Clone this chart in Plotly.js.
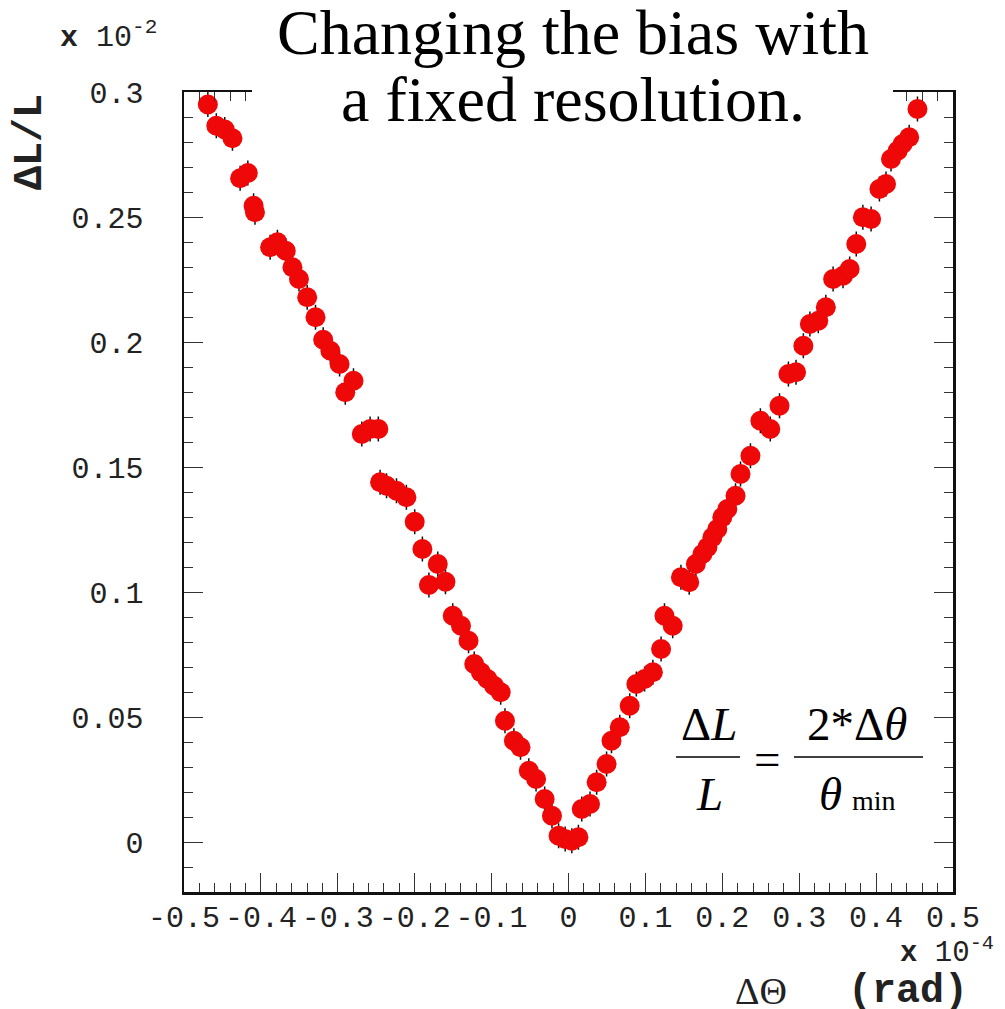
<!DOCTYPE html>
<html>
<head>
<meta charset="utf-8">
<script src="https://cdn.plot.ly/plotly-3.0.1.min.js"></script>
<style>html,body{margin:0;padding:0;background:#fff;}</style>
</head>
<body>
<div id="chart" style="width:1005px;height:1009px;"></div>
<script>
// Data (x in units of 1e-4 rad, y in units of 1e-2)
const dTheta = [
-0.469,-0.458,-0.447,-0.437,-0.427,-0.417,-0.4095,-0.4077,-0.388,-0.3785,
-0.3677,-0.359,-0.3505,-0.3398,-0.329,-0.319,-0.3097,-0.2977,-0.2903,-0.2796,
-0.2688,-0.258,-0.2473,-0.245,-0.2366,-0.2237,-0.2108,-0.200,-0.190,-0.1815,
-0.170,-0.160,-0.1505,-0.1398,-0.130,-0.1226,-0.114,-0.1054,-0.0968,-0.0882,
-0.0826,-0.071,-0.0624,-0.0516,-0.0422,-0.031,-0.0215,-0.0129,-0.0043,0.0043,
0.0129,0.0172,0.028,0.0366,0.0495,0.0559,0.0667,0.0796,0.0882,0.099,
0.1097,0.1204,0.1248,0.1355,0.1462,0.157,0.1656,0.1742,0.1806,0.1871,
0.1935,0.200,0.2065,0.2172,0.2237,0.2366,0.2495,0.2624,0.2744,0.286,
0.2959,0.3054,0.3139,0.3248,0.3346,0.3441,0.357,0.3656,0.3742,0.3828,
0.3935,0.4043,0.4129,0.4194,0.428,0.4344,0.443,0.4538
];
const dLoverL = [
0.295,0.2865,0.285,0.2815,0.2655,0.2676,0.2545,0.2519,0.2379,0.2399,
0.2365,0.2299,0.2252,0.2179,0.2099,0.2009,0.1965,0.1912,0.1799,0.1845,
0.1632,0.1652,0.1652,0.1439,0.1425,0.1405,0.1379,0.1281,0.1172,0.1028,
0.1112,0.1041,0.0905,0.0865,0.0805,0.0712,0.0679,0.0652,0.0625,0.0599,
0.0485,0.0405,0.0379,0.0285,0.0252,0.0172,0.0105,0.0025,0.0012,0.0005,
0.0019,0.0132,0.0152,0.0239,0.0312,0.0405,0.0459,0.0545,0.0632,0.0652,
0.0679,0.0772,0.0905,0.0865,0.1059,0.1039,0.1112,0.1152,0.1179,0.1219,
0.1252,0.1299,0.1332,0.1385,0.1472,0.1545,0.1685,0.1652,0.1745,0.1872,
0.1879,0.1985,0.2072,0.2085,0.2139,0.2252,0.2265,0.2292,0.2392,0.2499,
0.2492,0.2612,0.2632,0.2732,0.2765,0.2792,0.2819,0.2932
];
const errY = 0.005;

const xTickVals = [-0.5,-0.4,-0.3,-0.2,-0.1,0,0.1,0.2,0.3,0.4,0.5];
const xTickText = ["-0.5","-0.4","-0.3","-0.2","-0.1","0","0.1","0.2","0.3","0.4","0.5"];
const yTickVals = [0,0.05,0.1,0.15,0.2,0.25,0.3];
const yTickText = ["0","0.05","0.1","0.15","0.2","0.25","0.3"];

// plot area in pixels
const L = 184, R = 953, T = 92, B = 892, W = 1005, H = 1009;
const px = v => (v - L) / (R - L);
const py = v => (B - v) / (B - T);

const mono = "Liberation Mono, Courier New, monospace";
const serif = "Liberation Serif, Times New Roman, serif";

const trace = {
  x: dTheta, y: dLoverL, type: 'scatter', mode: 'markers',
  marker: {color: 'rgb(238,8,8)', size: 20, line: {width: 0}},
  error_y: {type: 'constant', value: errY, color: '#111', thickness: 1.5, width: 0},
  hoverinfo: 'x+y'
};

function ann(text, x, y, opts) {
  return Object.assign({text: text, x: px(x), y: py(y), xref: 'paper', yref: 'paper',
    showarrow: false, xanchor: 'center', yanchor: 'middle'}, opts || {});
}

const annotations = [
  ann('Changing the bias with', 572.5, 32, {font: {family: serif, size: 64, color: '#000'}}),
  ann('a fixed resolution.', 572.5, 99, {font: {family: serif, size: 64, color: '#000'}}),
  ann('<b>x</b> 10<sup>-2</sup>', 58, 36, {xanchor: 'left', font: {family: mono, size: 30, color: '#222'}}),
  ann('<b>ΔL/L</b>', 30, 142, {textangle: -90, font: {family: mono, size: 40, color: '#222'}}),
  ann('<b>x</b> 10<sup>-4</sup>', 898, 951, {xanchor: 'left', font: {family: mono, size: 29, color: '#222'}}),
  ann('ΔΘ', 761, 991, {font: {family: serif, size: 38, color: '#222'}}),
  ann('<b>(rad)</b>', 970, 991, {xanchor: 'right', font: {family: mono, size: 40, color: '#222'}}),
  // formula
  ann('Δ<i>L</i>', 708.5, 724, {font: {family: serif, size: 47, color: '#000'}}),
  ann('<i>L</i>', 709, 794, {font: {family: serif, size: 47, color: '#000'}}),
  ann('=', 767.5, 759, {font: {family: serif, size: 47, color: '#000'}}),
  ann('2*Δ<i>θ</i>', 857, 724, {font: {family: serif, size: 47, color: '#000'}}),
  ann('<i>θ</i>', 830, 794, {font: {family: serif, size: 47, color: '#000'}}),
  ann('min', 874, 800, {font: {family: serif, size: 28, color: '#000'}})
];

const shapes = [
  {type: 'rect', xref: 'paper', yref: 'paper', x0: px(252), x1: px(893), y0: py(135), y1: py(0),
   fillcolor: '#fff', line: {width: 0}, layer: 'above'},
  {type: 'line', xref: 'paper', yref: 'paper', x0: px(676), x1: px(740), y0: py(757), y1: py(757),
   line: {color: '#000', width: 1.5}},
  {type: 'line', xref: 'paper', yref: 'paper', x0: px(794), x1: px(923), y0: py(757), y1: py(757),
   line: {color: '#000', width: 1.5}}
];

const axisCommon = {
  showline: true, linecolor: '#111', linewidth: 2.5, mirror: 'allticks',
  ticks: 'inside', ticklen: 19, tickwidth: 1, tickcolor: '#333',
  showgrid: false, zeroline: false,
  tickfont: {family: mono, size: 30, color: '#222'}
};

const layout = {
  width: W, height: H,
  margin: {l: L, r: W - R, t: T, b: H - B, pad: 0},
  paper_bgcolor: '#fff', plot_bgcolor: '#fff',
  showlegend: false,
  xaxis: Object.assign({}, axisCommon, {
    range: [-0.5, 0.5], tickmode: 'array', tickvals: xTickVals, ticktext: xTickText,
    minor: {dtick: 0.02, ticks: 'inside', ticklen: 9, tickcolor: '#333', tickwidth: 1},
    ticklabelstandoff: -4
  }),
  yaxis: Object.assign({}, axisCommon, {
    range: [-0.02, 0.3], tickmode: 'array', tickvals: yTickVals, ticktext: yTickText,
    minor: {dtick: 0.01, ticks: 'inside', ticklen: 9, tickcolor: '#333', tickwidth: 1},
    ticklabelstandoff: 32
  }),
  annotations: annotations,
  shapes: shapes
};

Plotly.newPlot('chart', [trace], layout, {displayModeBar: false, staticPlot: true});
</script>
</body>
</html>
